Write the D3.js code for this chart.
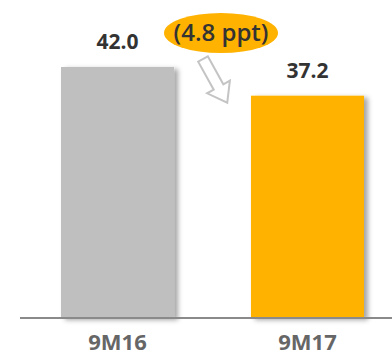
<!DOCTYPE html>
<html>
<head>
<meta charset="utf-8">
<script src="https://cdn.jsdelivr.net/npm/d3@7"></script>
<style>
  html, body { margin: 0; padding: 0; background: #fff; }
  svg { display: block; }
  text { font-family: "Open Sans", "Noto Sans", sans-serif; }
</style>
</head>
<body>
<svg id="chart" width="392" height="355"></svg>
<script>
// Period labels and values
const categories = ["9M16", "9M17"];
const values = [42.0, 37.2];
const valueLabels = ["42.0", "37.2"];
const barColors = ["#bfbfbf", "#ffb200"];
const changeLabel = "(4.8 ppt)";

const svg = d3.select("#chart");
const W = 392, H = 355;
const baseY = 318;

const x = d3.scaleBand().domain(categories).range([61, 364]).paddingInner(0.405).paddingOuter(0);
const y = d3.scaleLinear().domain([0, 42]).range([baseY, 67]);

// Soft shadow behind the bars
const defs = svg.append("defs");
const f = defs.append("filter").attr("id", "shadow")
  .attr("x", "-20%").attr("y", "-20%").attr("width", "150%").attr("height", "150%");
f.append("feDropShadow").attr("dx", 4).attr("dy", 2).attr("stdDeviation", 2.5)
  .attr("flood-color", "#000").attr("flood-opacity", 0.35);

svg.selectAll("rect.bar").data(values).join("rect")
  .attr("class", "bar")
  .attr("x", (d, i) => x(categories[i]))
  .attr("width", x.bandwidth())
  .attr("y", d => y(d))
  .attr("height", d => baseY - y(d))
  .attr("fill", (d, i) => barColors[i])
  .attr("filter", "url(#shadow)");

// Baseline
svg.append("line")
  .attr("x1", 20).attr("x2", W).attr("y1", baseY).attr("y2", baseY)
  .attr("stroke", "#8a8a8a").attr("stroke-width", 2);

// Value labels
svg.selectAll("text.val").data(values).join("text")
  .attr("class", "val")
  .attr("x", (d, i) => x(categories[i]) + x.bandwidth() / 2)
  .attr("y", d => y(d) - 18)
  .attr("text-anchor", "middle")
  .attr("font-size", 21)
  .attr("font-weight", 700)
  .attr("fill", "#333")
  .text((d, i) => valueLabels[i]);

// Category labels
svg.selectAll("text.cat").data(categories).join("text")
  .attr("class", "cat")
  .attr("x", d => x(d) + x.bandwidth() / 2)
  .attr("y", 350)
  .attr("text-anchor", "middle")
  .attr("font-size", 22)
  .attr("font-weight", 700)
  .attr("fill", "#666")
  .text(d => d);

// Change bubble
const cx = 221, cy = 33;
svg.append("ellipse")
  .attr("cx", cx).attr("cy", cy).attr("rx", 57).attr("ry", 20)
  .attr("fill", "#ffb200");
svg.append("text")
  .attr("x", cx).attr("y", cy + 8)
  .attr("text-anchor", "middle")
  .attr("font-size", 24)
  .attr("font-weight", 600)
  .attr("fill", "#333")
  .text(changeLabel);

// Hollow arrow pointing down to the lower bar
const len = 50, shaftW = 11, headW = 26, headL = 18;
const arrowPts = [
  [0, -shaftW / 2], [len - headL, -shaftW / 2], [len - headL, -headW / 2],
  [len, 0],
  [len - headL, headW / 2], [len - headL, shaftW / 2], [0, shaftW / 2]
];
svg.append("polygon")
  .attr("points", arrowPts.map(p => p.join(",")).join(" "))
  .attr("transform", "translate(203,59) rotate(61)")
  .attr("fill", "#fff")
  .attr("stroke", "#c4c4c4")
  .attr("stroke-width", 2)
  .attr("stroke-linejoin", "miter");
</script>
</body>
</html>
